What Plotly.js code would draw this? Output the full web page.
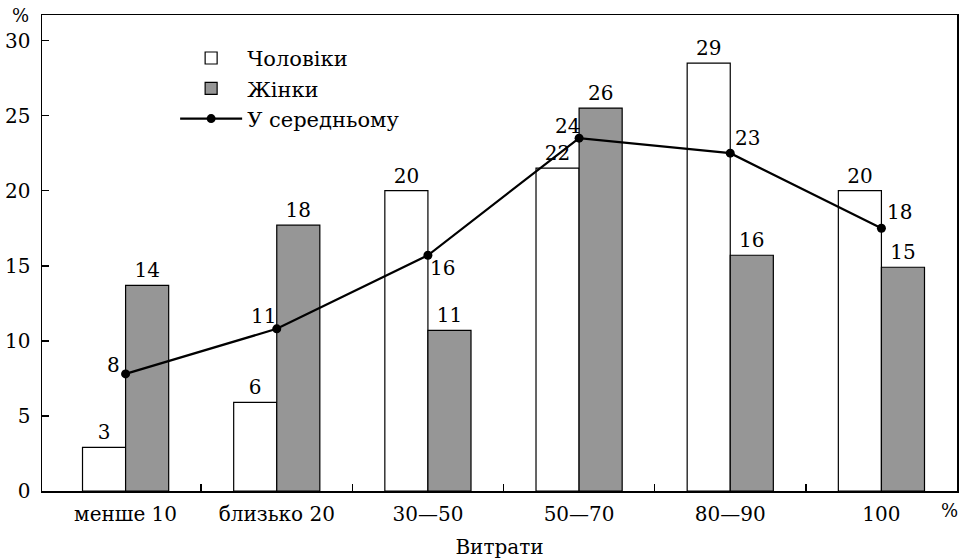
<!DOCTYPE html>
<html>
<head>
<meta charset="utf-8">
<script src="https://cdn.plot.ly/plotly-3.0.1.min.js"></script>
<style>html,body{margin:0;padding:0;background:#fff;}#chart{width:962px;height:560px;}</style>
</head>
<body>
<div id="chart"></div>
<script>
const categories = ['менше 10', 'близько 20', '30—50', '50—70', '80—90', '100'];
const men = [2.9, 5.9, 20.0, 21.5, 28.5, 20.0];
const women = [13.7, 17.7, 10.7, 25.5, 15.7, 14.9];
const average = [7.8, 10.8, 15.7, 23.5, 22.5, 17.5];
const seriesNames = ['Чоловіки', 'Жінки', 'У середньому'];
const xTitle = 'Витрати';
const yTicks = [0, 5, 10, 15, 20, 25, 30];

// label offsets (style only), in pixels
const avgLabelShiftX = [-12, -13, 15, -12, 17, 18];
const avgLabelShiftY = [9, 13, -13, 12, 15, 16];

const FONT = 'DejaVu Serif';
const FS = 20;
const boundaries = categories.slice(1).map((_, i) => i + 0.5);
const xr = [-0.553, 5.5];

const traces = [
  {
    type: 'bar', name: seriesNames[0], x: categories, y: men,
    text: men.map(v => String(Math.round(v))), textposition: 'outside',
    textfont: {family: FONT, size: FS, color: '#000'}, constraintext: 'none', cliponaxis: false,
    marker: {color: '#ffffff', line: {color: '#000', width: 1.2}}, hoverinfo: 'skip'
  },
  {
    type: 'bar', name: seriesNames[1], x: categories, y: women,
    text: women.map(v => String(Math.round(v))), textposition: 'outside',
    textfont: {family: FONT, size: FS, color: '#000'}, constraintext: 'none', cliponaxis: false,
    marker: {color: '#969696', line: {color: '#000', width: 1.2}}, hoverinfo: 'skip'
  },
  {
    type: 'scatter', mode: 'lines+markers', name: seriesNames[2], x: categories, y: average,
    cliponaxis: false,
    line: {color: '#000', width: 2.2}, marker: {color: '#000', size: 9}, hoverinfo: 'skip'
  },
  {
    type: 'scatter', mode: 'markers', x: [null], y: [null], xaxis: 'x2', yaxis: 'y',
    showlegend: false, hoverinfo: 'skip'
  }
];

const avgAnnotations = average.map((v, i) => ({
  x: i, y: v, xref: 'x', yref: 'y', text: String(Math.round(v)),
  showarrow: false, xanchor: 'center', yanchor: 'middle',
  xshift: avgLabelShiftX[i], yshift: avgLabelShiftY[i],
  font: {family: FONT, size: FS, color: '#000'}
}));

const layout = {
  width: 962, height: 560,
  margin: {l: 42, r: 5, t: 15, b: 69},
  paper_bgcolor: '#fff', plot_bgcolor: '#fff',
  font: {family: FONT, size: FS, color: '#000'},
  barmode: 'group', bargap: 0.43, bargroupgap: 0,
  showlegend: true,
  legend: {
    x: 0.1455, y: 0.952, xanchor: 'left', yanchor: 'top',
    bgcolor: 'rgba(0,0,0,0)', font: {family: FONT, size: 21, color: '#000'},
    traceorder: 'normal', itemwidth: 62, tracegroupgap: 0
  },
  xaxis: {
    type: 'category', range: xr, showline: true, linecolor: '#000', linewidth: 1.5,
    mirror: true, ticks: '', showgrid: false, zeroline: false,
    tickfont: {family: FONT, size: FS, color: '#000'}, ticklabelstandoff: 4,
    title: {text: xTitle, font: {family: FONT, size: FS, color: '#000'}, standoff: 15}
  },
  xaxis2: {
    type: 'linear', overlaying: 'x', anchor: 'y', side: 'bottom', range: xr,
    tickmode: 'array', tickvals: boundaries, ticks: 'inside', ticklen: 7, tickwidth: 1.5,
    tickcolor: '#000', showticklabels: false, showline: false, showgrid: false, zeroline: false
  },
  yaxis: {
    range: [0, 31.7], tickmode: 'array', tickvals: yTicks, ticks: 'inside', ticklen: 7,
    tickwidth: 1.5, tickcolor: '#000', showline: true, linecolor: '#000', linewidth: 1.5,
    mirror: true, showgrid: false, zeroline: false,
    tickfont: {family: FONT, size: FS, color: '#000'}, ticklabelstandoff: 6
  },
  annotations: [
    {text: '%', xref: 'paper', yref: 'paper', x: -0.024, y: 1.0, xanchor: 'center', yanchor: 'middle',
     showarrow: false, font: {family: FONT, size: 18, color: '#000'}},
    {text: '%', xref: 'paper', yref: 'paper', x: 0.992, y: -0.04, xanchor: 'center', yanchor: 'middle',
     showarrow: false, font: {family: FONT, size: 18, color: '#000'}}
  ].concat(avgAnnotations)
};

Plotly.newPlot('chart', traces, layout, {staticPlot: true, displayModeBar: false});
</script>
</body>
</html>
